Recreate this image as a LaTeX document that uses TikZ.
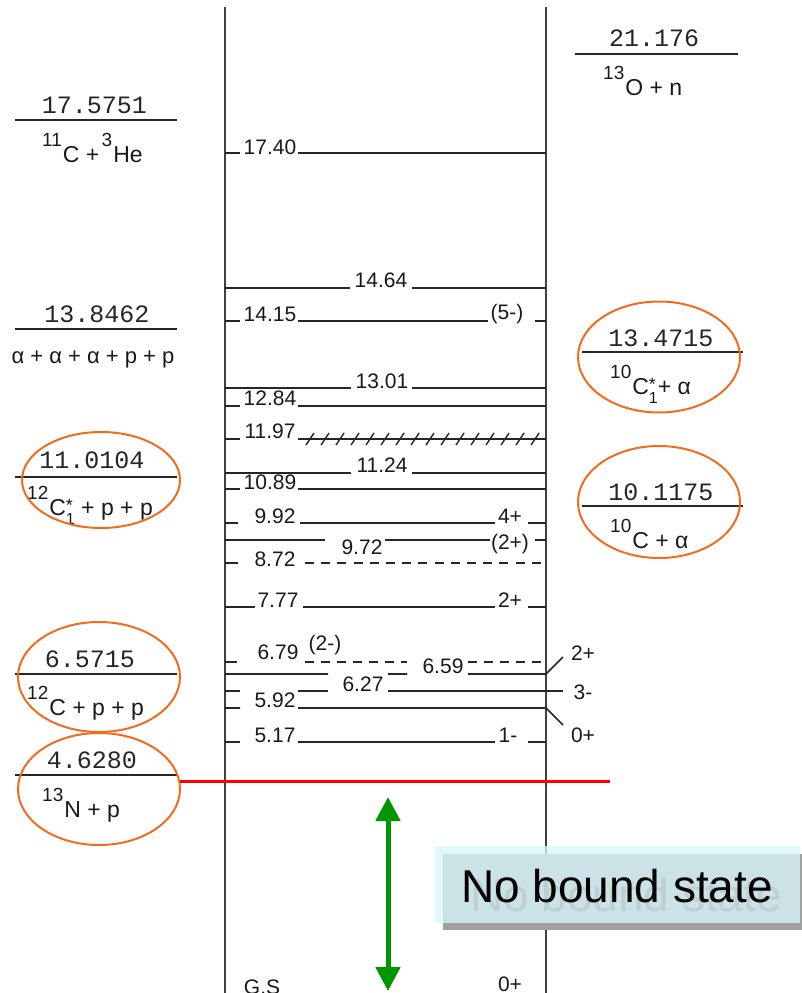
\documentclass[tikz,border=0pt]{standalone}
\usepackage{fontspec}
\setmainfont{Liberation Sans}
\setmonofont{Liberation Mono}
\usetikzlibrary{arrows.meta,shapes.geometric}
\definecolor{orng}{RGB}{242,108,30}
\definecolor{grn}{RGB}{0,150,0}
\definecolor{boxc}{RGB}{216,246,251}
\newcommand\myiso[2]{\raisebox{16pt}{\fontsize{19}{19}\selectfont #1}\kern1pt #2}
\newcommand\mystar{\rlap{\raisebox{4pt}{\fontsize{18}{18}\selectfont *}}\raisebox{-9pt}{\fontsize{16}{16}\selectfont 1}}
\begin{document}
\begin{tikzpicture}[x=1pt,y=-1pt,
 lv/.style={font=\fontsize{21}{21}\selectfont, inner sep=0pt, anchor=base, text=black!90},
 mono/.style={font=\fontsize{25}{25}\selectfont\ttfamily, inner sep=0pt, anchor=base, text=black!85},
 elem/.style={font=\fontsize{23}{23}\selectfont, inner sep=0pt, anchor=base west, text=black!90},
 axisln/.style={draw=black!75, line width=2pt},
 lvl/.style={draw=black!85, line width=1.6pt},
 dlvl/.style={lvl, dash pattern=on 9pt off 7pt},
 thr/.style={draw=black!85, line width=1.6pt},
 oval/.style={ellipse, draw=orng, line width=2pt, inner sep=0pt},
]
\useasboundingbox (0,0) rectangle (802,993);

% axes
\coordinate (axLt) at (225,7); \coordinate (axLb) at (225,993);
\coordinate (axRt) at (546,7); \coordinate (axRb) at (546,993);
\draw[axisln] (axLt) -- (axLb);
\draw[axisln] (axRt) -- (axRb);

% left thresholds
\node[mono] (t1) at (94.5,113) {17.5751};
\draw[thr] (15,120) -- (177,120);
\node[elem] (t1e) at (42,162) {\myiso{11}{C} + \kern-4pt\myiso{3}{He}};

\node[mono] (t2) at (97,322) {13.8462};
\draw[thr] (15,329) -- (177,329);
\node[elem, anchor=base, font=\fontsize{22}{22}\selectfont] (t2e) at (93,363) {α + α + α + p + p};

\node[mono] (t3) at (92,468) {11.0104};
\draw[thr] (15,477) -- (177,477);
\node[elem] (t3e) at (27,515) {\myiso{12}{C}\mystar\ + p + p};
\node[oval, minimum width=158pt, minimum height=96pt] (o3) at (101,480) {};

\node[mono] (t4) at (90,667) {6.5715};
\draw[thr] (15,674) -- (177,674);
\node[elem] (t4e) at (27,715) {\myiso{12}{C} + p + p};
\node[oval, minimum width=162pt, minimum height=110pt] (o4) at (99,677) {};

\node[mono] (t5) at (92,768) {4.6280};
\draw[thr] (15,775) -- (177,775);
\node[elem] (t5e) at (42,817) {\myiso{13}{N} + p};
\node[oval, minimum width=162pt, minimum height=112pt] (o5) at (99,789) {};

% right thresholds
\node[mono] (r1) at (654,46) {21.176};
\draw[thr] (575,54) -- (738,54);
\node[elem] (r1e) at (603,95) {\myiso{13}{O} + n};

\node[mono] (r2) at (661,346) {13.4715};
\draw[thr] (582,352) -- (743,352);
\node[elem] (r2e) at (610,394) {\myiso{10}{C}\mystar+ α};
\node[oval, minimum width=162pt, minimum height=111pt] (o2) at (659,357) {};

\node[mono] (r3) at (661,500) {10.1175};
\draw[thr] (582,506) -- (743,506);
\node[elem] (r3e) at (610,548) {\myiso{10}{C} + α};
\node[oval, minimum width=162pt, minimum height=112pt] (o3r) at (659,502) {};

% levels
% 17.40
\node[lv] (l1740) at (270,154) {17.40};
\draw[lvl] (225,153) -- (240,153) (298,153) -- (546,153);
% 14.64
\node[lv] (l1464) at (381,287) {14.64};
\draw[lvl] (225,288) -- (350,288) (412,288) -- (546,288);
% 14.15
\node[lv] (l1415) at (270,321) {14.15};
\node[lv] (j1415) at (507,319) {(5-)};
\draw[lvl] (225,321) -- (240,321) (298,321) -- (488,321) (535,321) -- (546,321);
% 13.01
\node[lv] (l1301) at (382,388) {13.01};
\draw[lvl] (225,388) -- (351,388) (412,388) -- (546,388);
% 12.84
\node[lv] (l1284) at (270,405) {12.84};
\draw[lvl] (225,406) -- (240,406) (298,406) -- (546,406);
% 11.97
\node[lv] (l1197) at (270,438) {11.97};
\draw[lvl] (225,439) -- (240,439) (298,439) -- (546,439);
\foreach \c in {0,...,15} {
  \draw[lvl, line width=1.4pt] ({310+15*\c-4},445) -- ({310+15*\c+4},433);
}
% 11.24
\node[lv] (l1124) at (382,472) {11.24};
\draw[lvl] (225,473) -- (351,473) (412,473) -- (546,473);
% 10.89
\node[lv] (l1089) at (270,489) {10.89};
\draw[lvl] (225,489) -- (240,489) (298,489) -- (546,489);
% 9.92
\node[lv] (l992) at (275,523) {9.92};
\node[lv] (j992) at (510,523) {4+};
\draw[lvl] (225,523) -- (238,523) (300,523) -- (495,523) (528,523) -- (546,523);
% 9.72
\node[lv] (l972) at (362,554) {9.72};
\node[lv] (j972) at (510,549) {(2+)};
\draw[lvl] (225,540) -- (325,540) (385,540) -- (490,540) (535,540) -- (546,540);
% 8.72
\node[lv] (l872) at (275,566) {8.72};
\draw[lvl] (225,563) -- (238,563);
\draw[dlvl, dash pattern=on 9pt off 7.2pt] (305,563) -- (546,563);
% 7.77
\node[lv] (l777) at (278,607) {7.77};
\node[lv] (j777) at (510,607) {2+};
\draw[lvl] (225,607) -- (255,607) (303,607) -- (495,607) (528,607) -- (546,607);
% 6.79
\node[lv] (l679) at (278,659) {6.79};
\node[lv] (j679) at (325,650) {(2-)};
\draw[lvl] (225,662) -- (237,662);
\draw[dlvl] (305,662) -- (407,662);
\draw[dlvl] (468,662) -- (546,662);
% 6.59
\node[lv] (l659) at (443,673) {6.59};
\node[lv] (j659) at (583,660) {2+};
\draw[lvl] (225,674) -- (328,674) (388,674) -- (407,674) (468,674) -- (546,674) -- (563,657);
% 6.27
\node[lv] (l627) at (363,691) {6.27};
\node[lv] (j627) at (583,699) {3-};
\draw[lvl] (225,691) -- (240,691) (298,691) -- (328,691) (388,691) -- (563,691);
% 5.92
\node[lv] (l592) at (275,707) {5.92};
\node[lv] (j592) at (583,742) {0+};
\draw[lvl] (225,708) -- (240,708) (298,708) -- (546,708) -- (563,725);
% 5.17
\node[lv] (l517) at (275,742) {5.17};
\node[lv] (j517) at (508,742) {1-};
\draw[lvl] (225,742) -- (240,742) (298,742) -- (495,742) (528,742) -- (546,742);
% ground state
\node[lv] (lgs) at (262,994) {G.S};
\node[lv] (jgs) at (510,991) {0+};

% red threshold line
\coordinate (redL) at (180,781); \coordinate (redR) at (610,781);
\draw[red, line width=3pt] (redL) -- (redR);

% green arrow
\coordinate (atop) at (388,797); \coordinate (abot) at (388,991);
\draw[grn, line width=5pt, {Triangle[width=24pt,length=24pt]}-{Triangle[width=24pt,length=24pt]}] (atop) -- (abot);

% No bound state box
\fill[black!37] (443,854) rectangle (812,930);
\fill[boxc, opacity=0.77] (435,846) rectangle (800,923);
\node[font=\fontsize{46}{46}\selectfont, inner sep=0pt, anchor=base, text=black, opacity=0.08] (nbg) at (626,911) {No bound state};
\node[font=\fontsize{46}{46}\selectfont, inner sep=0pt, anchor=base, text=black] (nb) at (617,902) {No bound state};
\end{tikzpicture}
\end{document}
